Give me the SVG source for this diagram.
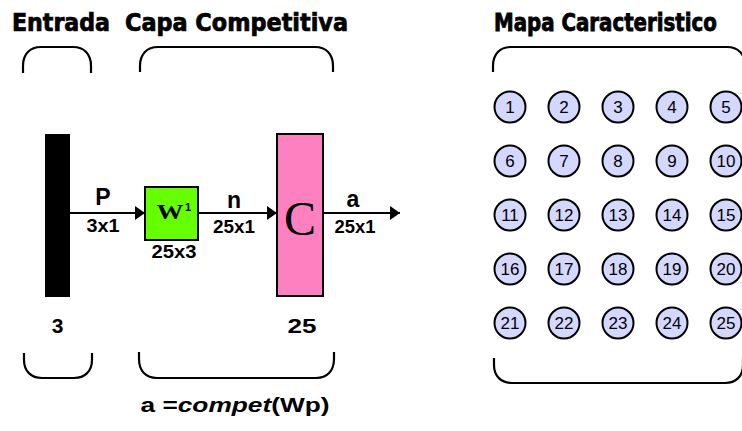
<svg xmlns="http://www.w3.org/2000/svg" width="742" height="431" viewBox="0 0 742 431">
  <style>
    .title { font-family: "DejaVu Sans", "Liberation Sans", sans-serif; font-weight: bold; font-stretch: condensed; font-size: 25px; fill: #000; stroke: #000; stroke-width: 0.7; }
    .lbl { font-family: "Liberation Sans", Arial, sans-serif; font-weight: bold; fill: #000; text-anchor: middle; }
    .dim { font-family: "Liberation Sans", Arial, sans-serif; font-weight: bold; font-size: 18px; fill: #000; text-anchor: middle; }
    .brace { fill: none; stroke: #000; stroke-width: 2.2; }
    .wire { stroke: #000; stroke-width: 2.2; fill: none; }
    .neuron { fill: #D4D8FF; stroke: #000; stroke-width: 2; }
    .num { font-family: "Liberation Sans", Arial, sans-serif; font-size: 17px; fill: #000; text-anchor: middle; }
  </style>
  <defs>
    <marker id="head" markerWidth="10" markerHeight="14" refX="10" refY="7" orient="auto" markerUnits="userSpaceOnUse">
      <path d="M0,0 L10,7 L0,14 Z" fill="#000"/>
    </marker>
  </defs>

  <rect width="742" height="431" fill="#fff"/>

  <!-- headings -->
  <text class="title" x="12" y="31" textLength="98" lengthAdjust="spacingAndGlyphs">Entrada</text>
  <text class="title" x="125" y="31" textLength="223" lengthAdjust="spacingAndGlyphs">Capa Competitiva</text>
  <text class="title" transform="translate(494,31) scale(1,1.13)" style="font-size:22px">Mapa Caracteristico</text>

  <!-- layer braces -->
  <g id="braces">
    <path class="brace" d="M23,73 L23,66 C23,54 30,47 41,47 L73,47 C84,47 91,54 91,66 L91,73"/>
    <path class="brace" d="M24,353 L24,360 C24,371 31,378 42,378 L74,378 C85,378 92,371 92,360 L92,353"/>
    <path class="brace" d="M140,72 L140,66 C140,54 147,47 158,47 L315,47 C326,47 333,54 333,66 L333,72"/>
    <path class="brace" d="M139,352 L139,359 C139,371 146,378 157,378 L316,378 C327,378 334,371 334,359 L334,352"/>
    <path class="brace" d="M493,72 L493,66 C493,54 500,47 511,47 L727,47 C738,47 745,54 745,66 L745,72"/>
    <path class="brace" d="M494,358 L494,365 C494,376 501,383 512,383 L725,383 C736,383 743,376 743,365 L743,358"/>
  </g>

  <!-- input vector -->
  <g id="input">
    <rect x="45" y="134" width="25" height="163" fill="#000"/>
    <text class="lbl" x="57.5" y="333" font-size="21">3</text>
  </g>

  <!-- weight matrix -->
  <g id="weights">
    <rect x="145" y="187" width="53" height="53" fill="#66FF00" stroke="#000" stroke-width="2"/>
    <text x="170" y="219" font-family="Liberation Serif, 'Times New Roman', serif" font-weight="bold" font-size="22" text-anchor="middle" textLength="27" lengthAdjust="spacingAndGlyphs">W</text>
    <text x="188" y="211" font-family="Liberation Sans, Arial, sans-serif" font-weight="bold" font-size="11" text-anchor="middle">1</text>
    <text class="dim" x="174" y="258" textLength="45" lengthAdjust="spacingAndGlyphs">25x3</text>
  </g>

  <!-- competitive transfer function -->
  <g id="compet">
    <rect x="277" y="134" width="46" height="162" fill="#FF80C0" stroke="#000" stroke-width="2"/>
    <text x="300" y="235" font-family="Liberation Serif, 'Times New Roman', serif" font-size="48" text-anchor="middle">C</text>
    <text class="lbl" x="302" y="333" font-size="21" textLength="29" lengthAdjust="spacingAndGlyphs">25</text>
  </g>

  <!-- signal wires -->
  <g id="connectors">
    <line class="wire" x1="70" y1="213" x2="145" y2="213" marker-end="url(#head)"/>
    <line class="wire" x1="198" y1="213" x2="277" y2="213" marker-end="url(#head)"/>
    <line class="wire" x1="323" y1="213" x2="400" y2="213" marker-end="url(#head)"/>
    <text class="lbl" x="103" y="205" font-size="23">P</text>
    <text class="dim" x="103" y="232" textLength="33" lengthAdjust="spacingAndGlyphs">3x1</text>
    <text class="lbl" x="234" y="208" font-size="23">n</text>
    <text class="dim" x="234" y="233" textLength="42" lengthAdjust="spacingAndGlyphs">25x1</text>
    <text class="lbl" x="353" y="207" font-size="23">a</text>
    <text class="dim" x="355" y="233" textLength="41" lengthAdjust="spacingAndGlyphs">25x1</text>
  </g>

  <!-- layer equation -->
  <text class="lbl" x="235" y="412" font-size="21" textLength="189" lengthAdjust="spacingAndGlyphs">a =<tspan font-style="italic">compet</tspan>(Wp)</text>

  <!-- feature map: 5 x 5 neurons -->
  <g id="map">
    <g id="n1"><circle class="neuron" cx="510" cy="107" r="15.5"/><text class="num" x="510" y="113">1</text></g>
    <g id="n2"><circle class="neuron" cx="564" cy="107" r="15.5"/><text class="num" x="564" y="113">2</text></g>
    <g id="n3"><circle class="neuron" cx="618" cy="107" r="15.5"/><text class="num" x="618" y="113">3</text></g>
    <g id="n4"><circle class="neuron" cx="672" cy="107" r="15.5"/><text class="num" x="672" y="113">4</text></g>
    <g id="n5"><circle class="neuron" cx="726" cy="107" r="15.5"/><text class="num" x="726" y="113">5</text></g>
    <g id="n6"><circle class="neuron" cx="510" cy="161" r="15.5"/><text class="num" x="510" y="167">6</text></g>
    <g id="n7"><circle class="neuron" cx="564" cy="161" r="15.5"/><text class="num" x="564" y="167">7</text></g>
    <g id="n8"><circle class="neuron" cx="618" cy="161" r="15.5"/><text class="num" x="618" y="167">8</text></g>
    <g id="n9"><circle class="neuron" cx="672" cy="161" r="15.5"/><text class="num" x="672" y="167">9</text></g>
    <g id="n10"><circle class="neuron" cx="726" cy="161" r="15.5"/><text class="num" x="726" y="167">10</text></g>
    <g id="n11"><circle class="neuron" cx="510" cy="215" r="15.5"/><text class="num" x="510" y="221">11</text></g>
    <g id="n12"><circle class="neuron" cx="564" cy="215" r="15.5"/><text class="num" x="564" y="221">12</text></g>
    <g id="n13"><circle class="neuron" cx="618" cy="215" r="15.5"/><text class="num" x="618" y="221">13</text></g>
    <g id="n14"><circle class="neuron" cx="672" cy="215" r="15.5"/><text class="num" x="672" y="221">14</text></g>
    <g id="n15"><circle class="neuron" cx="726" cy="215" r="15.5"/><text class="num" x="726" y="221">15</text></g>
    <g id="n16"><circle class="neuron" cx="510" cy="269" r="15.5"/><text class="num" x="510" y="275">16</text></g>
    <g id="n17"><circle class="neuron" cx="564" cy="269" r="15.5"/><text class="num" x="564" y="275">17</text></g>
    <g id="n18"><circle class="neuron" cx="618" cy="269" r="15.5"/><text class="num" x="618" y="275">18</text></g>
    <g id="n19"><circle class="neuron" cx="672" cy="269" r="15.5"/><text class="num" x="672" y="275">19</text></g>
    <g id="n20"><circle class="neuron" cx="726" cy="269" r="15.5"/><text class="num" x="726" y="275">20</text></g>
    <g id="n21"><circle class="neuron" cx="510" cy="323" r="15.5"/><text class="num" x="510" y="329">21</text></g>
    <g id="n22"><circle class="neuron" cx="564" cy="323" r="15.5"/><text class="num" x="564" y="329">22</text></g>
    <g id="n23"><circle class="neuron" cx="618" cy="323" r="15.5"/><text class="num" x="618" y="329">23</text></g>
    <g id="n24"><circle class="neuron" cx="672" cy="323" r="15.5"/><text class="num" x="672" y="329">24</text></g>
    <g id="n25"><circle class="neuron" cx="726" cy="323" r="15.5"/><text class="num" x="726" y="329">25</text></g>
  </g>
</svg>
